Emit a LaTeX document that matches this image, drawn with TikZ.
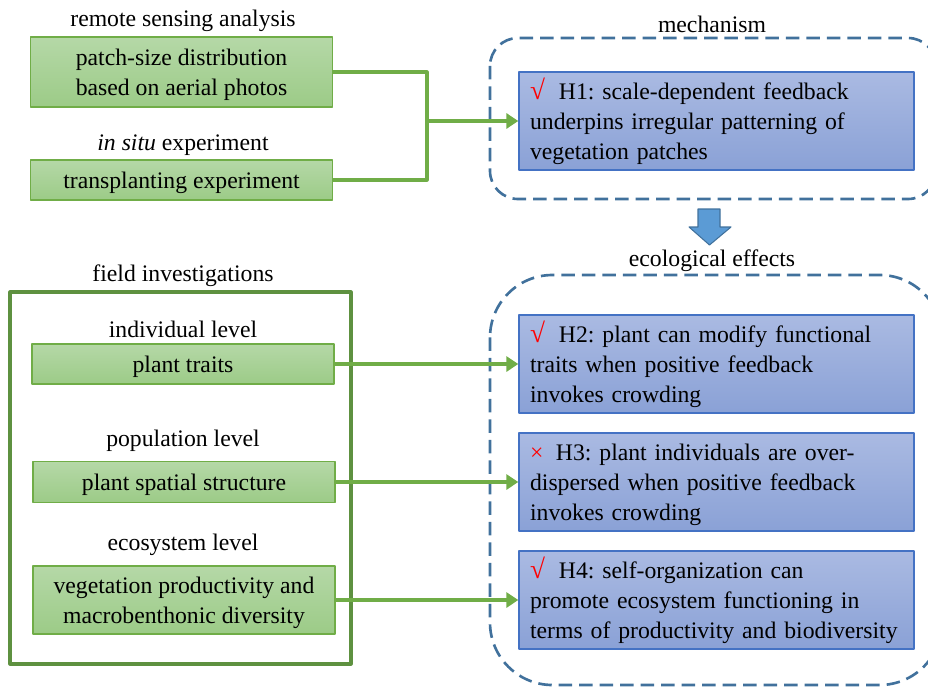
\documentclass[tikz,border=0pt]{standalone}
\usepackage{fontspec}
\setmainfont{Liberation Serif}
\usetikzlibrary{arrows.meta}
\definecolor{grline}{HTML}{70AD47}
\definecolor{grdark}{HTML}{5E9140}
\definecolor{grtop}{RGB}{181,216,167}
\definecolor{grbot}{RGB}{156,203,135}
\definecolor{hline}{HTML}{4472C4}
\definecolor{htop}{RGB}{170,186,226}
\definecolor{hbot}{RGB}{138,161,214}
\definecolor{dline}{HTML}{41719C}
\definecolor{afill}{HTML}{5B9BD5}
\newcommand{\yes}{\textcolor{red}{\fontsize{15.5}{17}\selectfont\textbf{√}}\hspace{0.28cm}}
\newcommand{\no}{\textcolor{red}{×}\hspace{0.25cm}}
\newcommand{\lift}{\rule{0pt}{12.6pt}}
\frenchspacing
\begin{document}
\begin{tikzpicture}[x=0.02cm,y=-0.02cm,line join=round,font=\fontsize{13.5}{17.07}\selectfont,
gbox/.style={draw=grline,line width=0.8pt,top color=grtop,bottom color=grbot,minimum width=6.04cm,align=center,inner sep=0pt},
hbox/.style={draw=hline,line width=0.8pt,top color=htop,bottom color=hbot,minimum width=7.9cm,minimum height=1.96cm,text width=7.46cm,align=left,inner xsep=0.22cm,inner ysep=0pt},
link/.style={grline,line width=1.8pt,-{Triangle[length=0.24cm,width=0.3cm]}},
dframe/.style={dline,line width=1.5pt,dash pattern=on 0.27cm off 0.14cm}]
\useasboundingbox (0,0) rectangle (928,686);
\node (rs) at (183,21){remote sensing analysis};
\node[gbox,minimum height=1.4cm] (photo) at (181.5,72){\lift patch-size distribution\\based on aerial photos};
\node (is) at (183,145){\textit{in situ} experiment};
\node[gbox,minimum height=0.8cm] (trans) at (181.5,180){\lift transplanting experiment};
\node (fi) at (183,276){field investigations};
\draw[grdark,line width=1.8pt] (10,292) rectangle (351,664);
\node (il) at (183,329){individual level};
\node[gbox,minimum height=0.8cm] (traits) at (183,364){\lift plant traits};
\node (pl) at (183,441){population level};
\node[gbox,minimum height=0.82cm] (spat) at (184,482){\lift plant spatial structure};
\node (el) at (183,545){ecosystem level};
\node[gbox,minimum height=1.36cm] (prod) at (184,600){\lift vegetation productivity and\\macrobenthonic diversity};
\draw[dframe,rounded corners=0.56cm] (490,38) rectangle (936,199);
\draw[dframe,rounded corners=1.25cm] (490,275) rectangle (942,685);
\node (mech) at (712,24){mechanism};
\node (eco) at (712,261){ecological effects};
\node[hbox] (H1) at (716.5,121){\lift\yes H1: scale-dependent feedback\\underpins irregular patterning of\\vegetation patches};
\node[hbox] (H2) at (716.5,364){\lift\yes H2: plant can modify functional\\traits when positive feedback\\invokes crowding};
\node[hbox] (H3) at (716.5,482){\lift\no H3: plant individuals are over-\\dispersed when positive feedback\\invokes crowding};
\node[hbox] (H4) at (716.5,600){\lift\yes H4: self-organization can\\promote ecosystem functioning in\\terms of productivity and biodiversity};
\filldraw[fill=afill,draw=dline,line width=0.6pt] (698,209)--(720,209)--(720,227)--(731,227)--(709.5,245)--(689,227)--(698,227)--cycle;
\coordinate (join) at (427,121);
\draw[grline,line width=1.8pt] (photo.east)-|(join)|-(trans.east);
\draw[link] (join)--(H1.west);
\draw[link] (traits.east)--(H2.west);
\draw[link] (spat.east)--(H3.west);
\draw[link] (prod.east)--(H4.west);
\end{tikzpicture}
\end{document}
